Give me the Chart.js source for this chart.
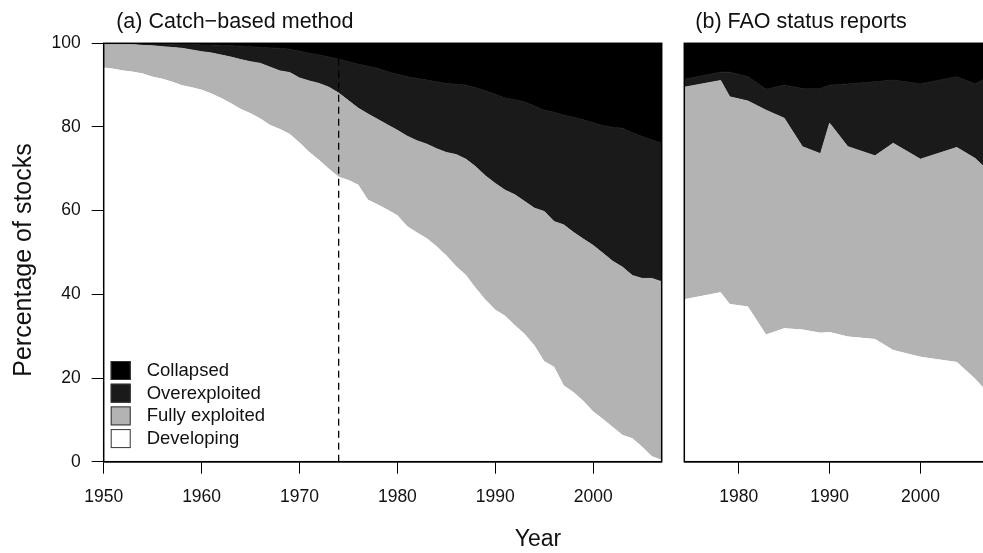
<!DOCTYPE html>
<html>
<head>
<meta charset="utf-8">
<script src="https://cdn.jsdelivr.net/npm/chart.js@4.4.1/dist/chart.umd.min.js"></script>
<style>
  html,body{margin:0;padding:0;background:#fff;overflow:hidden;}
  #wrap{position:relative;width:983px;height:553px;overflow:hidden;}
  #chartA{position:absolute;left:0;top:0;}
  #chartB{position:absolute;left:670px;top:0;}
</style>
</head>
<body>
<div id="wrap">
  <canvas id="chartA" width="983" height="553"></canvas>
  <canvas id="chartB" width="320" height="553"></canvas>
</div>
<script>
const categories = ["Developing", "Fully exploited", "Overexploited", "Collapsed"];
const colors = ["#ffffff", "#b3b3b3", "#1a1a1a", "#000000"];

// (a) catch-based method: % of stocks per year
const yearsA = [1950,1951,1952,1953,1954,1955,1956,1957,1958,1959,
                1960,1961,1962,1963,1964,1965,1966,1967,1968,1969,
                1970,1971,1972,1973,1974,1975,1976,1977,1978,1979,
                1980,1981,1982,1983,1984,1985,1986,1987,1988,1989,
                1990,1991,1992,1993,1994,1995,1996,1997,1998,1999,
                2000,2001,2002,2003,2004,2005,2006,2007];
const developingA = [94.2,93.9,93.5,93.2,92.8,92.0,91.5,90.8,90.0,89.5,
                     88.9,88.0,86.9,85.7,84.3,83.3,82.0,80.5,79.5,78.3,
                     76.3,74.0,72.1,70.0,68.1,67.3,66.2,62.6,61.5,60.2,
                     58.9,56.3,54.8,53.4,51.5,49.3,46.7,44.6,41.5,38.7,
                     36.3,34.9,32.6,30.5,27.8,24.0,22.7,18.2,16.6,14.5,
                     12.0,10.2,8.3,6.4,5.6,3.6,1.3,0.4];
const fullyA = [5.8,6.1,6.4,6.5,6.7,7.4,7.7,8.2,8.8,8.9,
                9.1,9.7,10.3,11.0,11.8,12.3,13.2,13.8,13.9,14.7,
                15.4,17.0,18.3,19.5,20.0,19.0,18.3,20.5,20.3,20.3,
                20.3,21.5,21.9,22.5,23.3,24.6,26.7,27.7,29.0,29.6,
                30.2,30.0,31.2,31.7,32.8,35.8,34.7,38.4,38.2,38.7,
                39.7,39.6,39.6,40.1,38.9,40.2,42.5,42.6];
const overA = [0,0,0.1,0.3,0.4,0.5,0.7,0.8,0.9,1.3,
               1.6,1.9,2.3,2.7,3.2,3.6,3.8,4.6,5.4,5.6,
               6.4,6.6,6.8,7.2,8.1,9.3,10.5,11.4,12.2,12.7,
               13.4,14.2,14.9,15.3,16.0,16.5,16.8,17.7,18.9,20.3,
               21.3,22.0,22.7,23.8,24.4,24.2,26.1,26.2,27.5,28.5,
               29.3,30.5,32.0,33.2,34.1,33.9,33.1,33.1];
const collapsedA = [0,0,0,0,0.1,0.1,0.1,0.2,0.3,0.3,
                    0.4,0.4,0.5,0.6,0.7,0.8,1.0,1.1,1.2,1.4,
                    1.9,2.4,2.8,3.3,3.8,4.4,5.0,5.5,6.0,6.8,
                    7.4,8.0,8.4,8.8,9.2,9.6,9.8,10.0,10.6,11.4,
                    12.2,13.1,13.5,14.0,15.0,16.0,16.5,17.2,17.7,18.3,
                    19.0,19.7,20.1,20.3,21.4,22.3,23.1,23.9];
const refYear = 1974;

// (b) FAO status reports
const yearsB = [1974,1978,1979,1981,1983,1985,1987,1989,1990,1992,1995,1997,2000,2004,2006,2007];
const developingB = [38.8,40.5,37.7,37.1,30.4,31.9,31.6,30.8,31.0,29.9,29.3,26.7,25.1,23.8,19.9,17.5];
const fullyB = [50.7,50.6,49.5,49.1,53.6,50.2,43.7,42.8,49.9,45.4,43.8,49.4,47.2,51.3,52.6,53.0];
const overB = [1.9,2.0,5.9,5.8,5.0,7.9,13.9,15.6,9.1,15.0,17.7,15.1,18.0,16.9,17.8,20.9];
const collapsedB = [8.6,6.9,6.9,8.0,11.0,10.0,10.8,10.8,10.0,9.7,9.2,8.8,9.7,8.0,9.7,8.6];

const yTicks = [0,20,40,60,80,100];
const xTicksA = [1950,1960,1970,1980,1990,2000];
const xTicksB = [1980,1990,2000];

const FONT = '"Liberation Sans", Arial, Helvetica, sans-serif';

function areaSets(vals){
    return vals.map((v,i)=>({
        label: categories[i],
        data: v,
        backgroundColor: colors[i],
        borderColor: colors[i],
        borderWidth: i===0 ? 0 : 1,
        fill: i===0 ? "origin" : "-1",
        pointRadius: 0,
        tension: 0
    }));
}

function xScale(min, max, tickList){
    return {
        type:"linear", min:min, max:max,
        afterBuildTicks: s => { s.ticks = tickList.map(v=>({value:v})); },
        afterFit: s => { s.height = 91.3; },
        grid:{display:true, drawOnChartArea:false, drawTicks:true, tickLength:12, color:"#000", lineWidth:1},
        border:{display:true, color:"#000", width:1.5},
        ticks:{padding:13, color:"#111", maxRotation:0, font:{family:FONT, size:17.5}, callback:v=>String(v)}
    };
}

/* frame + panel title (+ figure labels and legend on panel a) */
const panelText = {
    id:"panelText",
    afterDraw(chart, args, opts){
        const ctx = chart.ctx, a = chart.chartArea;
        ctx.save();
        ctx.strokeStyle = "#000";
        ctx.lineWidth = 1.5;
        ctx.strokeRect(a.left, a.top, a.right-a.left, a.bottom-a.top);

        ctx.fillStyle = "#111";
        ctx.textBaseline = "middle";
        ctx.textAlign = "left";
        ctx.font = "21.5px " + FONT;
        ctx.fillText(opts.title, a.left + opts.titleDx, 22);

        if(opts.figure){
            // legend, top row = last category
            ctx.font = "18.5px " + FONT;
            for(let k=0; k<categories.length; k++){
                const i = categories.length-1-k;
                const top = a.bottom - 100.7 + k*22.7;
                ctx.fillStyle = colors[i];
                ctx.fillRect(a.left+7, top, 20, 19);
                ctx.strokeStyle = "#333";
                ctx.lineWidth = 1;
                ctx.strokeRect(a.left+7.5, top+0.5, 19, 18);
                ctx.fillStyle = "#111";
                ctx.fillText(categories[i], a.left+43, top+10);
            }
            ctx.textAlign = "center";
            ctx.font = "23px " + FONT;
            ctx.fillText("Year", 538, 540);
            ctx.translate(24, 260);
            ctx.rotate(-Math.PI/2);
            ctx.font = "25px " + FONT;
            ctx.fillText("Percentage of stocks", 0, 0);
        }
        ctx.restore();
    }
};

const setsA = areaSets([developingA, fullyA, overA, collapsedA]);
setsA.push({
    label:"ref",
    data:[{x:refYear, y:0}, {x:refYear, y:100}],
    stack:"ref",
    borderColor:"#000",
    borderWidth:1.3,
    borderDash:[7,5],
    fill:false,
    pointRadius:0,
    order:-1
});

new Chart(document.getElementById("chartA"), {
    type:"line",
    data:{labels:yearsA, datasets:setsA},
    plugins:[panelText],
    options:{
        responsive:false,
        animation:false,
        events:[],
        layout:{padding:{top:43.3, right:321.3, bottom:0, left:0}},
        plugins:{
            legend:{display:false},
            tooltip:{enabled:false},
            panelText:{title:"(a) Catch\u2212based method", titleDx:12.5, figure:true}
        },
        scales:{
            x: xScale(1950, 2007, xTicksA),
            y:{
                stacked:true, min:0, max:100,
                afterBuildTicks: s => { s.ticks = yTicks.map(v=>({value:v})); },
                afterFit: s => { s.width = 103.7; },
                grid:{display:true, drawOnChartArea:false, drawTicks:true, tickLength:12, color:"#000", lineWidth:1},
                border:{display:true, color:"#000", width:1.5},
                ticks:{padding:11, color:"#111", font:{family:FONT, size:17.5}}
            }
        }
    }
});

new Chart(document.getElementById("chartB"), {
    type:"line",
    data:{labels:yearsB, datasets:areaSets([developingB, fullyB, overB, collapsedB])},
    plugins:[panelText],
    options:{
        responsive:false,
        animation:false,
        events:[],
        layout:{padding:{top:43.3, right:6, bottom:0, left:0}},
        plugins:{
            legend:{display:false},
            tooltip:{enabled:false},
            panelText:{title:"(b) FAO status reports", titleDx:11, figure:false}
        },
        scales:{
            x: xScale(1974, 2007, xTicksB),
            y:{
                stacked:true, min:0, max:100,
                afterFit: s => { s.width = 14.3; },
                grid:{display:false},
                border:{display:true, color:"#000", width:1.5},
                ticks:{display:false}
            }
        }
    }
});
</script>
</body>
</html>
